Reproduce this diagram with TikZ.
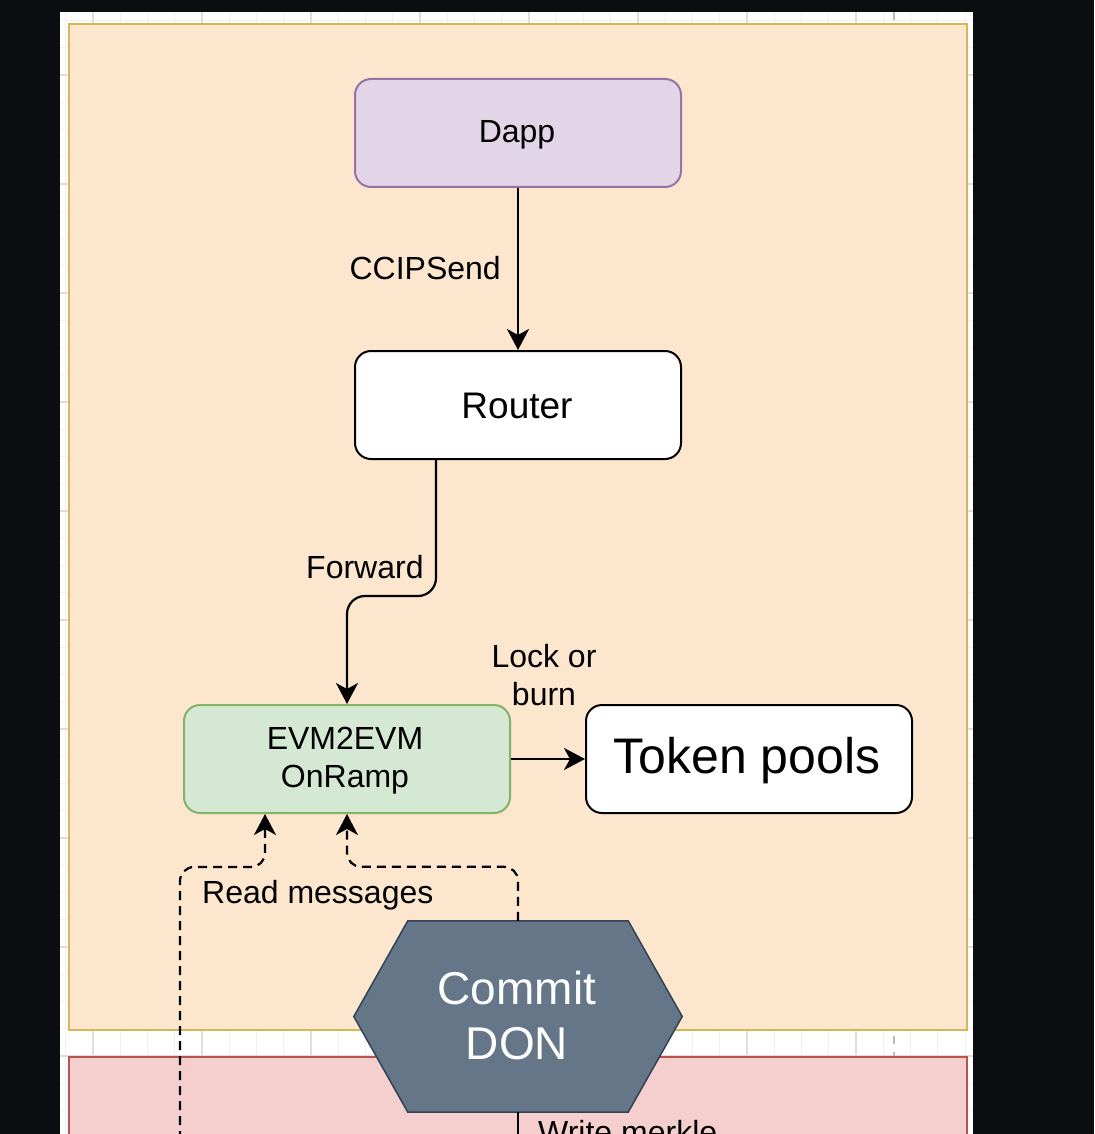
\documentclass[tikz,border=0pt]{standalone}
\usepackage{fontspec}
\setmainfont{Liberation Sans}
\usetikzlibrary{arrows.meta,calc}
\definecolor{bgblack}{RGB}{12,13,16}
\definecolor{orfill}{RGB}{252,230,206}
\definecolor{ordraw}{RGB}{214,182,86}
\definecolor{pkfill}{RGB}{245,207,205}
\definecolor{pkdraw}{RGB}{184,84,80}
\definecolor{pufill}{RGB}{225,213,231}
\definecolor{pudraw}{RGB}{150,115,166}
\definecolor{grfill}{RGB}{213,232,212}
\definecolor{grdraw}{RGB}{130,179,102}
\definecolor{hxfill}{RGB}{100,118,135}
\definecolor{hxdraw}{RGB}{49,67,84}
\definecolor{gridminor}{RGB}{240,240,240}
\definecolor{gridmajor}{RGB}{222,222,222}
\tikzset{
  box/.style={draw, line width=2pt, rounded corners=16pt, minimum width=326pt, minimum height=108pt, inner sep=0pt},
  lbl/.style={inner sep=0pt, font=\fontsize{32}{38}\selectfont, text=black, align=center},
  arrowln/.style={line width=2.2pt, -{Stealth[length=21pt, width=22pt, inset=6pt]}},
  dasharrow/.style={arrowln, dash pattern=on 9pt off 6pt},
}
\begin{document}
\begin{tikzpicture}[x=1pt, y=-1pt]
\useasboundingbox (0,0) rectangle (1094,1134);
\begin{scope}
\clip (0,0) rectangle (1094,1134);
\fill[bgblack] (0,0) rectangle (1094,1134);
\fill[white] (60,12) rectangle (973,1140);
% grid
\begin{scope}
\clip (60,12) rectangle (973,1140);
\foreach \i in {0,...,33} {
  \pgfmathsetmacro{\gx}{65.75+27.25*\i}
  \draw[gridminor, line width=1pt] (\gx,12) -- (\gx,1140);
}
\foreach \i in {0,...,41} {
  \pgfmathsetmacro{\gy}{20.5+27.25*\i}
  \draw[gridminor, line width=1pt] (60,\gy) -- (973,\gy);
}
\foreach \i in {0,...,7} {
  \pgfmathsetmacro{\gx}{93+109*\i}
  \draw[gridmajor, line width=1.2pt] (\gx,12) -- (\gx,1140);
}
\foreach \i in {0,...,9} {
  \pgfmathsetmacro{\gy}{75+109*\i}
  \draw[gridmajor, line width=1.2pt] (60,\gy) -- (973,\gy);
}
\draw[gray!55, line width=1.2pt, dash pattern=on 8pt off 8pt] (894,12) -- (894,1140);
\end{scope}
% containers
\node[draw=ordraw, fill=orfill, line width=2pt, minimum width=898pt, minimum height=1006pt, inner sep=0pt] (srcchain) at (518,527) {};
\node[draw=pkdraw, fill=pkfill, line width=2pt, minimum width=898pt, minimum height=200pt, inner sep=0pt] (dstchain) at (518,1157) {};
% boxes
\node[box, draw=pudraw, fill=pufill] (dapp) at (518,133) {};
\node[box, draw=black, fill=white] (router) at (518,405) {};
\node[box, draw=grdraw, fill=grfill] (onramp) at (347,759) {};
\node[box, draw=black, fill=white] (pools) at (749,759) {};
% hexagon
\node[minimum width=328pt, minimum height=191pt, inner sep=0pt] (don) at (518,1016.5) {};
\draw[hxdraw, fill=hxfill, line width=1.5pt] (don.west) -- ([xshift=54pt]don.north west) -- ([xshift=-54pt]don.north east) -- (don.east) -- ([xshift=-54pt]don.south east) -- ([xshift=54pt]don.south west) -- cycle;
% texts in boxes
\node[lbl, anchor=base] (tdapp) at (517,143) {Dapp};
\node[lbl, anchor=base, font=\fontsize{37}{44}\selectfont] (trouter) at (517,418) {Router};
\node[lbl, anchor=base] (tonramp) at (345,787) {EVM2EVM\\OnRamp};
\node[lbl, anchor=base, font=\fontsize{50}{60}\selectfont] (tpools) at (747,773) {Token pools};
\node[lbl, anchor=base, font=\fontsize{46}{55.5}\selectfont, text=white] (tdon) at (517,1059.5) {Commit\\DON};
% connectors
\coordinate (cLeft) at (180,1140);
\coordinate (cBottom) at (518,1140);
\draw[arrowln] (dapp.south) -- (router.north);
\draw[arrowln, rounded corners=18pt] ([xshift=-82pt]router.south) -- ++(0,136) -| (onramp.north);
\draw[arrowln] (onramp.east) -- (pools.west);
\draw[dasharrow, rounded corners=14pt] (don.north) -- ++(0,-54) -| (onramp.south);
\draw[dasharrow, rounded corners=14pt] (cLeft) -- (180,867) -| ([xshift=-82pt]onramp.south);
\draw[line width=2.2pt] (don.south) -- (cBottom);
% edge labels
\node[lbl, anchor=base east] (lccip) at (501,279) {CCIPSend};
\node[lbl, anchor=base west] (lfwd) at (306,578) {Forward};
\node[lbl, anchor=base] (llock) at (544,705) {Lock or\\burn};
\node[lbl, anchor=base west] (lread) at (202,903) {Read messages};
\node[lbl, anchor=base west] (lwrite) at (538,1143) {Write merkle};
\end{scope}
\end{tikzpicture}
\end{document}
